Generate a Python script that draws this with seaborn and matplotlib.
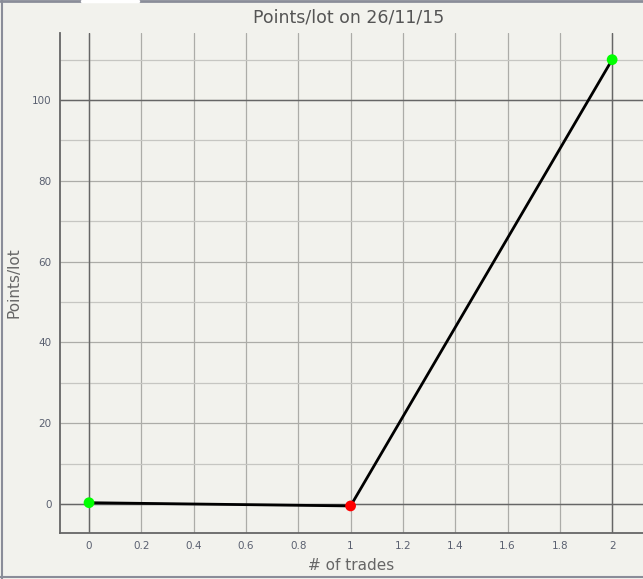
import matplotlib
matplotlib.use("Agg")
import matplotlib.pyplot as plt
from matplotlib.lines import Line2D
from matplotlib.ticker import MultipleLocator
import seaborn as sns
import pandas as pd

# data
trades = [0, 1, 2]
points = [0.3, -0.5, 110]
point_colors = ["#00ff00", "#ff0000", "#00ff00"]
title = "Points/lot on 26/11/15"

df = pd.DataFrame({"trades": trades, "points": points, "c": point_colors})

sns.set_style("white")
plt.rcParams['font.family'] = ['DejaVu Sans']

bg = "#f2f2ed"
fig = plt.figure(figsize=(6.43, 5.79), dpi=100, facecolor=bg)
W, H = 643, 579
ax = fig.add_axes([60 / W, (H - 533) / H, (643 - 60) / W, (533 - 33) / H])
ax.set_facecolor(bg)

ax.set_xlim(-0.111, 2.118)
ax.set_ylim(-7.2, 116.6)

ax.xaxis.set_major_locator(MultipleLocator(0.2))
ax.yaxis.set_major_locator(MultipleLocator(20))
ax.yaxis.set_minor_locator(MultipleLocator(10))
ax.grid(which="major", color="#acaca8", lw=0.9)
ax.grid(which="minor", axis="y", color="#c6c6c2", lw=0.9)
ax.set_axisbelow(True)
for v in (0, 2):
    ax.axvline(v, color="#666666", lw=1.0, zorder=1)
for v in (0, 100):
    ax.axhline(v, color="#666666", lw=1.0, zorder=1)

sns.lineplot(data=df, x="trades", y="points", color="black", lw=2, ax=ax, zorder=3)
sns.scatterplot(data=df, x="trades", y="points", hue="c", palette={c: c for c in point_colors},
                s=60, edgecolor="none", legend=False, ax=ax, zorder=4)

ax.xaxis.set_major_formatter(plt.FuncFormatter(lambda v, p: f"{v:g}"))
ax.tick_params(length=0, labelsize=7.5, labelcolor="#5a6070", pad=6)
for s in ("top", "right"):
    ax.spines[s].set_visible(False)
for s in ("left", "bottom"):
    ax.spines[s].set_color("#666666")
    ax.spines[s].set_linewidth(1.3)

ax.set_xlabel("# of trades", fontsize=11, color="#666666")
ax.set_ylabel("Points/lot", fontsize=11, color="#666666")
ax.xaxis.set_label_coords(0.5, -(566 - 533) / 500, transform=ax.transAxes)
ax.yaxis.set_label_coords(-(60 - 14) / 583, 0.5, transform=ax.transAxes)
ax.xaxis.label.set_va("center")
ax.yaxis.label.set_va("center")
fig.text((60 + 643) / 2 / W - 0.005, 1 - 18 / H, title, ha="center", va="center",
         fontsize=12.5, color="#555555")

# window frame
fc = "#8a8d99"
fig.add_artist(Line2D([1.5 / W, 1.5 / W], [0, 1], color=fc, lw=1.5))
fig.add_artist(Line2D([0, 1], [1 - 577 / H, 1 - 577 / H], color=fc, lw=1.5))
fig.add_artist(Line2D([0, 1], [1 - 1 / H, 1 - 1 / H], color=fc, lw=2))
fig.add_artist(Line2D([82 / W, 138 / W], [1 - 1 / H, 1 - 1 / H], color="white", lw=2.5))

fig.savefig("out.png", dpi=100, facecolor=bg)
